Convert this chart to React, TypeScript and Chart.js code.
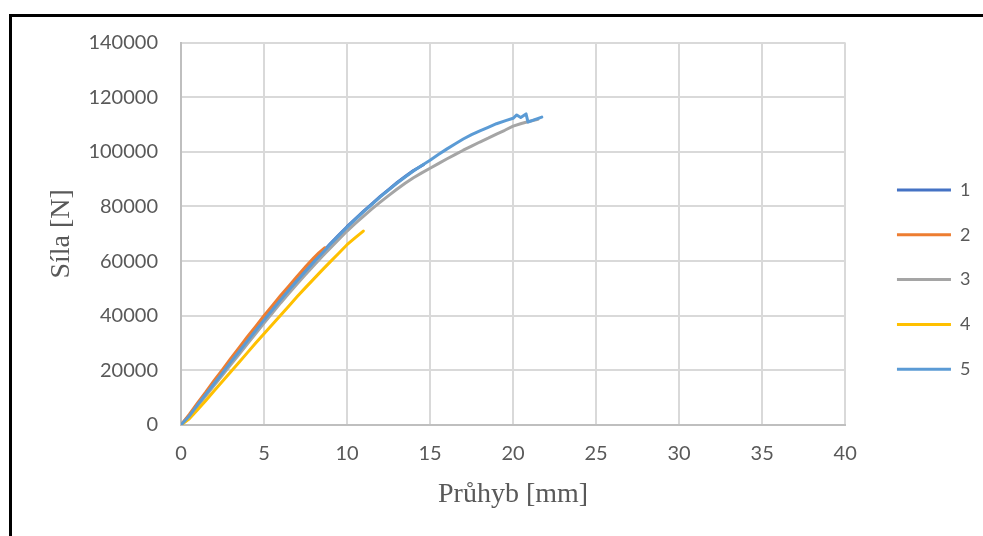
import React, { useEffect, useRef } from "react";
import { Chart, registerables } from "chart.js";

Chart.register(...registerables);

// ---- data ----
const seriesNames = ["1", "2", "3", "4", "5"];
const seriesColors = ["#4472C4", "#ED7D31", "#A5A5A5", "#FFC000", "#5B9BD5"];

const s1X = [0, 0.5, 1, 1.5, 2, 2.5, 3, 3.5, 4, 4.5, 5, 5.5, 6, 6.5, 7, 7.5, 8, 8.5, 9, 9.5, 10, 10.5, 11, 11.5, 12, 12.5, 13, 13.5, 14, 14.6];
const s1Y = [0, 3400, 7500, 11400, 15300, 19300, 23200, 27000, 31000, 34800, 38500, 42300, 46000, 49600, 53100, 56500, 59900, 63100, 66400, 69500, 72600, 75500, 78300, 81000, 83700, 86200, 88700, 91000, 93200, 95300];

const s2X = [0, 0.5, 1, 1.5, 2, 2.5, 3, 3.5, 4, 4.5, 5, 5.5, 6, 6.5, 7, 7.5, 8, 8.3, 8.67];
const s2Y = [0, 3900, 8100, 12100, 16300, 20300, 24400, 28300, 32300, 36100, 40000, 43700, 47400, 50900, 54500, 57900, 61200, 63000, 64900];

const s3X = [0, 0.5, 1, 1.5, 2, 2.5, 3, 3.5, 4, 4.5, 5, 5.5, 6, 6.5, 7, 7.5, 8, 8.5, 9, 9.5, 10, 10.5, 11, 11.5, 12, 12.5, 13, 13.5, 14, 14.5, 15, 15.5, 16, 16.5, 17, 17.5, 18, 18.5, 19, 19.5, 20, 20.5, 21, 21.5];
const s3Y = [0, 2900, 6900, 10700, 14500, 18300, 22100, 25900, 29700, 33500, 37300, 41000, 44700, 48200, 51700, 55100, 58400, 61700, 64800, 67900, 71000, 73800, 76500, 79100, 81600, 84000, 86300, 88500, 90500, 92300, 94000, 95700, 97400, 99000, 100600, 102100, 103600, 105000, 106500, 107900, 109400, 110400, 111200, 111900];

const s4X = [0, 0.5, 1, 1.5, 2, 2.5, 3, 3.5, 4, 4.5, 5, 5.5, 6, 6.5, 7, 7.5, 8, 8.5, 9, 9.5, 10, 10.5, 10.98];
const s4Y = [0, 2300, 5600, 9000, 12500, 16000, 19500, 23000, 26500, 30000, 33400, 36800, 40200, 43600, 47000, 50300, 53500, 56700, 59800, 62900, 66000, 68600, 71000];

const s5X = [0, 0.5, 1, 1.5, 2, 2.5, 3, 3.5, 4, 4.5, 5, 5.5, 6, 6.5, 7, 7.5, 8, 8.5, 9, 9.5, 10, 10.5, 11, 11.5, 12, 12.5, 13, 13.5, 14, 14.5, 15, 15.5, 16, 16.5, 17, 17.5, 18, 18.5, 19, 19.6, 20, 20.22, 20.46, 20.78, 20.9, 21.3, 21.73];
const s5Y = [0, 3300, 7400, 11300, 15200, 19100, 23100, 26900, 30800, 34600, 38400, 42100, 45800, 49400, 52900, 56300, 59700, 62900, 66200, 69300, 72400, 75300, 78100, 80800, 83500, 86000, 88500, 90800, 93000, 95000, 96900, 99000, 101000, 102900, 104700, 106300, 107700, 109000, 110300, 111500, 112300, 113500, 112600, 113900, 110900, 111800, 112700];

const seriesX = [s1X, s2X, s3X, s4X, s5X];
const seriesY = [s1Y, s2Y, s3Y, s4Y, s5Y];

const xMin = 0;
const xMax = 40;
const xStep = 5;
const yMin = 0;
const yMax = 140000;
const yStep = 20000;
const xTitle = "Průhyb [mm]";
const yTitle = "Síla [N]";

const W = 983;
const H = 536;

export default function App() {
  const canvasRef = useRef<HTMLCanvasElement | null>(null);

  useEffect(() => {
    document.body.style.margin = "0";
    const canvas = canvasRef.current;
    if (!canvas) return;
    const tickFont = { family: "Lato", size: 20 };
    const titleFont = { family: "Liberation Serif", size: 28 };
    const textColor = "#595959";

    const datasets = seriesNames.map((name, i) => ({
      label: name,
      data: seriesX[i].map((x, j) => ({ x, y: seriesY[i][j] })),
      borderColor: seriesColors[i],
      backgroundColor: seriesColors[i],
      borderWidth: 3,
      pointRadius: 0,
      pointHoverRadius: 0,
      tension: 0,
      fill: false,
      borderJoinStyle: "round" as const,
      borderCapStyle: "round" as const,
      order: seriesNames.length - 1 - i,
    }));

    const chart = new Chart(canvas, {
      type: "line",
      data: { datasets },
      options: {
        animation: false,
        responsive: false,
        devicePixelRatio: 1,
        events: [],
        layout: { padding: { top: 42.6, bottom: 19.4, left: 0, right: 2.6 } },
        plugins: {
          tooltip: { enabled: false },
          legend: {
            display: true,
            position: "right",
            align: "center",
            labels: {
              usePointStyle: true,
              pointStyle: "line",
              pointStyleWidth: 54,
              boxHeight: 18,
              boxWidth: 54,
              padding: 26.8,
              color: textColor,
              font: { family: "Lato", size: 18 },
              sort: (a: any, b: any) => a.datasetIndex - b.datasetIndex,
            },
          },
        },
        scales: {
          x: {
            type: "linear",
            min: xMin,
            max: xMax,
            ticks: { stepSize: xStep, font: tickFont, color: textColor, padding: 17 },
            grid: { color: "#D9D9D9", lineWidth: 2, drawTicks: false },
            border: { color: "#BFBFBF", width: 2 },
            title: {
              display: true,
              text: xTitle,
              font: titleFont,
              color: textColor,
              padding: { top: 0, bottom: 4.8 },
            },
            afterFit: (s: any) => {
              s.height = 91.6;
            },
          },
          y: {
            type: "linear",
            min: yMin,
            max: yMax,
            ticks: {
              stepSize: yStep,
              font: tickFont,
              color: textColor,
              padding: 23,
              callback: (v: any) => String(v),
            },
            grid: { color: "#D9D9D9", lineWidth: 2, drawTicks: false },
            border: { color: "#BFBFBF", width: 2 },
            title: {
              display: true,
              text: yTitle,
              font: titleFont,
              color: textColor,
              padding: { top: 45, bottom: 0 },
            },
            afterFit: (s: any) => {
              s.width = 181;
            },
          },
          gap: {
            type: "linear",
            position: "right",
            display: true,
            ticks: { display: false },
            grid: { display: false },
            border: { display: false },
            afterFit: (s: any) => {
              s.width = 25;
            },
          },
        },
      },
    } as any);
    return () => chart.destroy();
  }, []);

  return (
    <div style={{ position: "relative", width: W, height: H, overflow: "hidden", background: "#fff" }}>
      <canvas ref={canvasRef} width={W} height={H} style={{ display: "block" }} />
      <div
        style={{
          position: "absolute",
          left: 9,
          top: 14,
          width: W,
          height: H,
          borderTop: "3px solid #000",
          borderLeft: "3px solid #000",
          pointerEvents: "none",
        }}
      />
    </div>
  );
}
